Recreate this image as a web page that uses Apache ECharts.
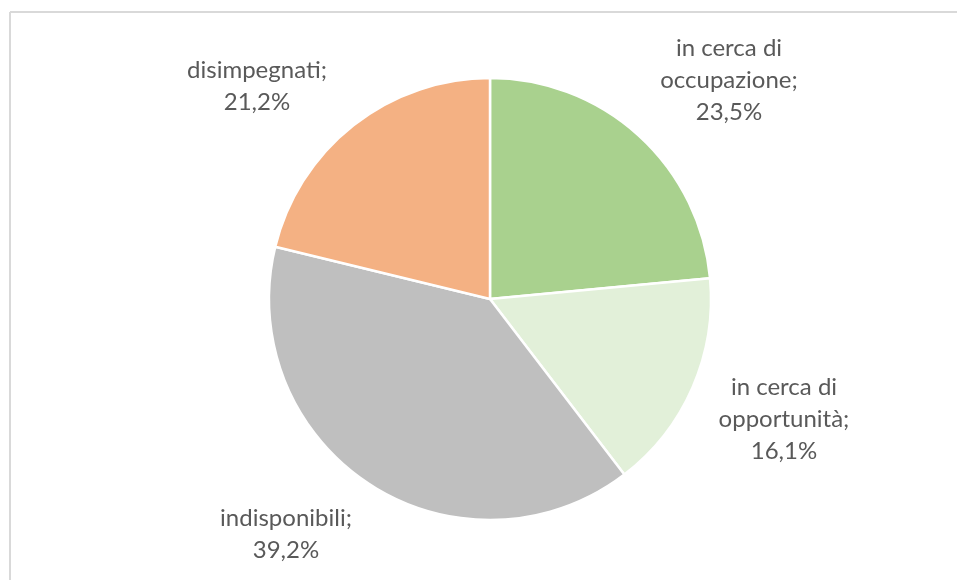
<!DOCTYPE html>
<html>
<head>
<meta charset="utf-8">
<style>
  html, body { margin: 0; padding: 0; background: #ffffff; }
  #chart { width: 957px; height: 580px; }
</style>
<script src="https://cdn.jsdelivr.net/npm/echarts@6/dist/echarts.min.js"></script>
</head>
<body>
<div id="chart"></div>
<script>
// Categories and shares (percent), clockwise from 12 o'clock
const categories = ['in cerca di\noccupazione', 'in cerca di\nopportunità', 'indisponibili', 'disimpegnati'];
const shares = [23.5, 16.1, 39.2, 21.2];
const colors = ['#A9D18E', '#E2F0D9', '#BFBFBF', '#F4B183'];
// Label anchor points (centre of each text block)
const labelSpots = [[729, 80], [784, 419], [286, 534], [257, 86]];

const chart = echarts.init(document.getElementById('chart'), null, { renderer: 'canvas' });

const fmt = v => v.toFixed(1).replace('.', ',') + '%';

chart.setOption({
  animation: false,
  backgroundColor: '#ffffff',
  graphic: [
    { type: 'line', shape: { x1: 10, y1: 12, x2: 957, y2: 12 }, style: { stroke: '#d9d9d9', lineWidth: 2 } },
    { type: 'line', shape: { x1: 10, y1: 12, x2: 10, y2: 580 }, style: { stroke: '#d9d9d9', lineWidth: 2 } }
  ],
  series: [{
    type: 'pie',
    center: [490, 299],
    radius: 221,
    startAngle: 90,
    clockwise: true,
    avoidLabelOverlap: false,
    itemStyle: { borderColor: '#ffffff', borderWidth: 2.5 },
    label: {
      show: true,
      position: 'outside',
      formatter: p => p.name + ';\n' + fmt(p.value),
      fontFamily: 'Lato',
      fontSize: 24,
      lineHeight: 32,
      color: '#595959',
      align: 'center'
    },
    labelLine: { show: false },
    labelLayout: params => {
      const s = labelSpots[params.dataIndex];
      return { x: s[0], y: s[1], align: 'center', verticalAlign: 'middle' };
    },
    emphasis: { disabled: true },
    data: categories.map((c, i) => ({ name: c, value: shares[i], itemStyle: { color: colors[i] } }))
  }]
});
</script>
</body>
</html>
